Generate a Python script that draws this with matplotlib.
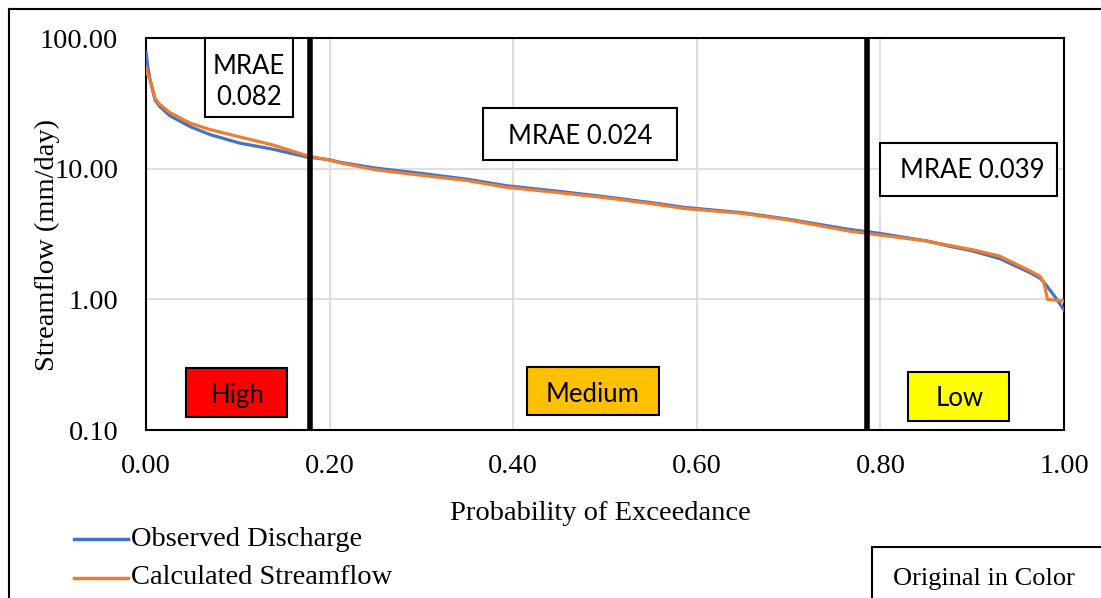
import matplotlib
matplotlib.use("Agg")
import matplotlib.pyplot as plt
from matplotlib.lines import Line2D
from matplotlib.patches import Rectangle

# Flow duration curves (probability of exceedance vs. streamflow, mm/day)
obs_p = [0.000, 0.002, 0.0044, 0.0098, 0.015, 0.026, 0.048, 0.070, 0.102, 0.138,
         0.175, 0.200, 0.211, 0.250, 0.300, 0.350, 0.393, 0.450, 0.500, 0.550,
         0.587, 0.650, 0.700, 0.767, 0.785, 0.800, 0.850, 0.876, 0.900, 0.930,
         0.963, 0.974, 0.980, 0.990, 1.000]
obs_q = [78.0, 60.0, 47.8, 33.6, 29.9, 25.4, 21.0, 18.2, 15.7, 14.1,
         12.3, 11.7, 11.2, 10.1, 9.2, 8.3, 7.4, 6.7, 6.1, 5.5,
         5.05, 4.6, 4.1, 3.42, 3.3, 3.19, 2.8, 2.54, 2.35, 2.05,
         1.6, 1.45, 1.30, 1.05, 0.83]

calc_p = [0.000, 0.002, 0.0044, 0.0098, 0.015, 0.026, 0.048, 0.070, 0.102, 0.138,
          0.175, 0.200, 0.211, 0.250, 0.300, 0.350, 0.393, 0.450, 0.500, 0.550,
          0.587, 0.650, 0.700, 0.767, 0.785, 0.800, 0.850, 0.876, 0.900, 0.930,
          0.963, 0.974, 0.978, 0.982, 1.000]
calc_q = [60.0, 52.0, 48.5, 34.5, 31.0, 26.9, 22.3, 19.9, 17.5, 15.2,
          12.6, 11.6, 11.1, 9.8, 8.9, 8.1, 7.2, 6.55, 6.0, 5.4,
          4.95, 4.55, 4.05, 3.32, 3.2, 3.1, 2.8, 2.58, 2.4, 2.14,
          1.65, 1.5, 1.35, 1.0, 0.97]

x_ticks = [0.0, 0.2, 0.4, 0.6, 0.8, 1.0]
y_ticks = [0.1, 1.0, 10.0, 100.0]
boundaries = [0.179, 0.785]

mrae_labels = ["MRAE\n0.082", "MRAE 0.024", "MRAE 0.039"]
regime_labels = ["High", "Medium", "Low"]
regime_colors = ["#FF0000", "#FFC000", "#FFFF00"]

BLUE = "#4472C4"
ORANGE = "#ED7D31"
SERIF = "Liberation Serif"
SANS = "Lato"
FS = 20.5

W, H = 1101, 598
fig = plt.figure(figsize=(W / 100, H / 100), dpi=100)

# outer chart frame (left and top edges)
fig.add_artist(Line2D([9 / W, 9 / W], [0, 1 - 9 / H], color="black", lw=1.5,
                      transform=fig.transFigure))
fig.add_artist(Line2D([9 / W, 1], [1 - 9 / H, 1 - 9 / H], color="black", lw=1.5,
                      transform=fig.transFigure))

ax = fig.add_axes([146 / W, 1 - 430 / H, (1064 - 146) / W, (430 - 38) / H])
ax.set_yscale("log")
ax.set_xlim(0, 1)
ax.set_ylim(0.1, 100)

ax.plot(obs_p, obs_q, color=BLUE, lw=2.3, zorder=3, solid_joinstyle="round")
ax.plot(calc_p, calc_q, color=ORANGE, lw=2.3, zorder=4, solid_joinstyle="round")

for b in boundaries:
    ax.axvline(b, color="black", lw=4, zorder=5)

ax.set_xticks(x_ticks)
ax.set_xticklabels([f"{v:.2f}" for v in x_ticks], fontfamily=SERIF, fontsize=FS)
ax.set_yticks(y_ticks)
ax.set_yticklabels([f"{v:.2f}" for v in y_ticks], fontfamily=SERIF, fontsize=FS)
ax.yaxis.set_minor_locator(matplotlib.ticker.NullLocator())
ax.tick_params(axis="x", length=0, pad=17)
ax.tick_params(axis="y", length=0, pad=20)
ax.grid(True, color="#D9D9D9", lw=1.2, zorder=0)
for s in ax.spines.values():
    s.set_color("black")
    s.set_linewidth(1.5)

fig.text(600 / W, 1 - 513 / H, "Probability of Exceedance", ha="center", va="center",
         fontfamily=SERIF, fontsize=FS)
fig.text(47 / W, 1 - 245 / H, "Streamflow (mm/day)", ha="center", va="center",
         rotation=90, fontfamily=SERIF, fontsize=FS)


def px_box(x0, y0, x1, y1, text, fc="white", fs=18.5, tx=None, ty=None):
    rect = Rectangle((x0 / W, 1 - y1 / H), (x1 - x0) / W, (y1 - y0) / H,
                     transform=fig.transFigure, facecolor=fc, edgecolor="black",
                     lw=1.5, zorder=10)
    fig.add_artist(rect)
    cx = (x0 + x1) / 2 if tx is None else tx
    cy = (y0 + y1) / 2 if ty is None else ty
    fig.text(cx / W, 1 - cy / H, text, ha="center", va="center",
             fontfamily=SANS, fontsize=fs, zorder=11, linespacing=1.3)


px_box(205, 38, 293, 117, mrae_labels[0], ty=82)
px_box(483, 108, 677, 160, mrae_labels[1], ty=136)
px_box(880, 143, 1057, 196, mrae_labels[2], tx=972, ty=171)
px_box(186, 368, 287, 417, regime_labels[0], fc=regime_colors[0], tx=238, ty=396)
px_box(527, 367, 659, 415, regime_labels[1], fc=regime_colors[1], tx=593, ty=394)
px_box(908, 372, 1009, 421, regime_labels[2], fc=regime_colors[2], tx=960, ty=399)

# legend below the plot
for y, col, lab in [(539, BLUE, "Observed Discharge"), (578, ORANGE, "Calculated Streamflow")]:
    fig.add_artist(Line2D([74 / W, 128 / W], [1 - y / H, 1 - y / H], color=col, lw=2.5,
                          transform=fig.transFigure))
    fig.text(131 / W, 1 - y / H, lab, ha="left", va="center", fontfamily=SERIF, fontsize=FS)

# note box at bottom right
fig.add_artist(Rectangle((872 / W, -0.05), 0.3, 0.05 + (H - 547) / H,
                         transform=fig.transFigure, facecolor="white",
                         edgecolor="black", lw=1.5))
fig.text(893 / W, 1 - 579 / H, "Original in Color", ha="left", va="center",
         fontfamily=SERIF, fontsize=19)

fig.savefig("out.png", dpi=100)
